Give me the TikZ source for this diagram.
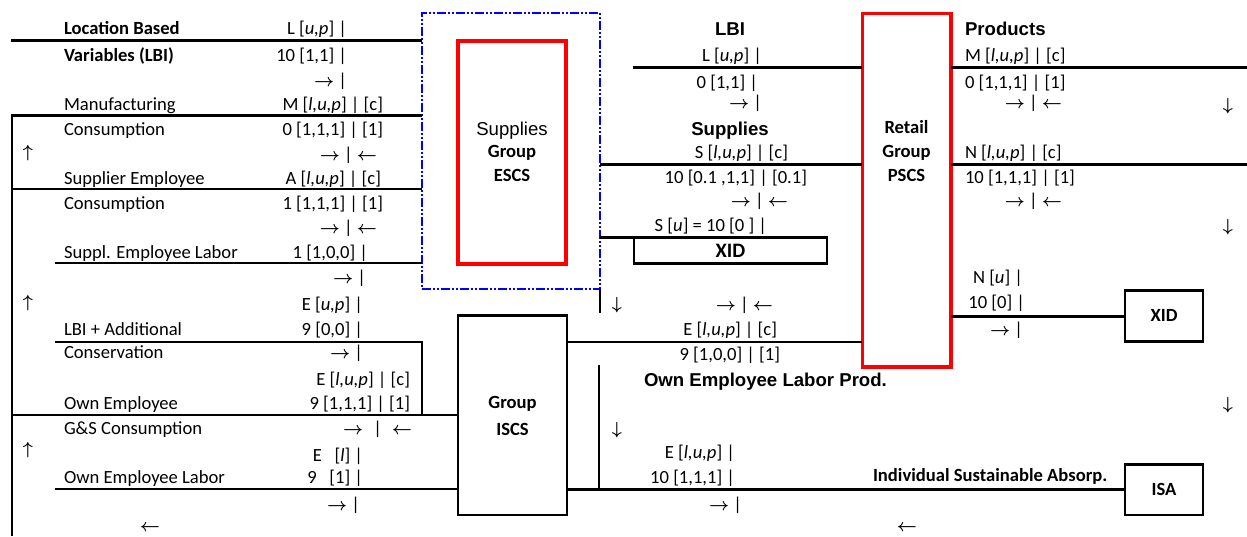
\documentclass[tikz,border=0pt]{standalone}
\usepackage{graphicx}
\usepackage{fontspec}
\setmainfont{Carlito}
\newfontfamily\arialf{Liberation Sans}
\newcommand\myRA{\scalebox{1.75}{\normalsize\boldmath$\rightarrow$}}
\newcommand\myLA{\scalebox{1.75}{\normalsize\boldmath$\leftarrow$}}
\newcommand\myUA{\scalebox{1.75}{\normalsize\boldmath$\uparrow$}}
\newcommand\myDA{\scalebox{1.75}{\normalsize\boldmath$\downarrow$}}
\newcommand\myit[1]{\textit{#1}}
\begin{document}
\begin{tikzpicture}[x=1pt,y=-1pt,
  txt/.style={inner sep=0pt, outer sep=0pt, font=\fontsize{18.6}{22}\selectfont},
  tl/.style={txt, anchor=base west},
  tr/.style={txt, anchor=base east},
  tc/.style={txt, anchor=base},
  bl/.style={tl, font=\bfseries\fontsize{18.6}{22}\selectfont},
  bc/.style={tc, font=\bfseries\fontsize{18.6}{22}\selectfont},
  hd/.style={txt, font=\arialf\bfseries\fontsize{18.6}{22}\selectfont},
  arr/.style={inner sep=0pt, outer sep=0pt, anchor=center},
  ln/.style={line width=2.6pt},
  blk/.style={draw, line width=2.6pt, inner sep=0pt, outer sep=0pt},
  redbox/.style={draw=red, line width=3.6pt, inner sep=0pt, outer sep=0pt},
  bluebox/.style={draw=blue, line width=1.7pt, inner sep=0pt, outer sep=0pt,
    dash pattern=on 9pt off 2pt on 2pt off 2pt on 2pt off 2pt}
]
\useasboundingbox (0,0) rectangle (1247,536);

% boxes
\node[bluebox, minimum width=178.3pt, minimum height=275.7pt] (escsout) at (510.85,151.15) {};
\node[redbox, minimum width=108pt, minimum height=223.3pt] (escs) at (512,152.35) {};
\node[blk, minimum width=109pt, minimum height=199.3pt] (iscs) at (512.5,415.35) {};
\node[redbox, minimum width=88.4pt, minimum height=353.7pt] (pscs) at (906.5,190.15) {};
\node[blk, minimum width=193pt, minimum height=25.6pt] (xida) at (730.5,250.5) {};
\node[blk, minimum width=78pt, minimum height=51pt] (xidb) at (1164,316.2) {};
\node[blk, minimum width=78pt, minimum height=50.7pt] (isa) at (1164,489.65) {};

% box texts
\node[txt, anchor=base, font=\arialf\fontsize{18.6}{22}\selectfont] (e1) at (512,135) {Supplies};
\node[bc] (e2) at (512,157) {Group};
\node[bc] (e3) at (512,181.7) {ESCS};
\node[bc] (i1) at (512.5,408) {Group};
\node[bc] (i2) at (512.5,435) {ISCS};
\node[bc] (p1) at (906.5,133) {Retail};
\node[bc] (p2) at (906.5,157) {Group};
\node[bc] (p3) at (906.5,181.7) {PSCS};
\node[bc, font=\bfseries\fontsize{20.5}{24}\selectfont] (x1) at (730.5,257.3) {XID};
\node[bc] (x2) at (1164,321.7) {XID};
\node[bc] (s1) at (1164,495.7) {ISA};

% connectors left
\coordinate (a1) at (11,40.7);
\draw[ln] (a1) -- (a1 -| escsout.west);
\coordinate (a2) at (12,536);
\coordinate (a2t) at (12,115.7);
\draw[ln] (a2) -- (a2t) -- (a2t -| escsout.west);
\coordinate (a3) at (12,189);
\draw[ln] (a3) -- (a3 -| escsout.west);
\coordinate (a4) at (55,263);
\draw[ln] (a4) -- (a4 -| escsout.west);
\coordinate (a5) at (55,342);
\coordinate (a5d) at (422,415);
\draw[ln] (a5) -| (a5d);
\coordinate (a6) at (12,415);
\draw[ln] (a6) -- (a6 -| iscs.west);
\coordinate (a7) at (55,489);
\draw[ln] (a7) -- (a7 -| iscs.west);

% connectors middle
\coordinate (m1) at (633,67.7);
\draw[ln] (m1) -- (m1 -| pscs.west);
\coordinate (m2) at (600,164.3);
\draw[ln] (m2 -| escsout.east) -- (m2 -| pscs.west);
\draw[ln] (xida.north west -| escsout.east) -- (xida.north west);
\coordinate (m4) at (600,313);
\draw[ln] (escsout.south east) -- (m4);
\coordinate (m5) at (567,342);
\draw[ln] (m5 -| iscs.east) -- (m5 -| pscs.west);
\coordinate (m6a) at (599,365);
\coordinate (m6b) at (599,489.65);
\draw[ln] (m6a) -- (m6b);
\draw[ln] (isa.west -| iscs.east) -- (isa.west);

% connectors right
\coordinate (r1) at (1247,67.7);
\draw[ln] (r1 -| pscs.east) -- (r1);
\coordinate (r2) at (1247,164.3);
\draw[ln] (r2 -| pscs.east) -- (r2);
\draw[ln] (xidb.west -| pscs.east) -- (xidb.west);

% left labels
\node[bl] (L0) at (64,34.3) {Location Based};
\node[bl] (L1) at (64,61.7) {Variables (LBI)};
\node[tl] (L3) at (64,110) {Manufacturing};
\node[tl] (L4) at (64,135) {Consumption};
\node[tl] (L6) at (64,184) {Supplier Employee};
\node[tl] (L7) at (64,209.5) {Consumption};
\node[tl] (L9) at (64,258) {Suppl. Employee Labor};
\node[tl] (L12) at (64,335) {LBI + Additional};
\node[tl] (L13) at (64,358.5) {Conservation};
\node[tl] (L15) at (64,409) {Own Employee};
\node[tl] (L16) at (64,434) {G\&S Consumption};
\node[tl] (L18) at (64,483) {Own Employee Labor};

% left values
\node[tr] (V0) at (347,34.3) {L [\myit{u,p}] |};
\node[tr] (V1) at (347,61.7) {10 [1,1] |};
\node[tr] (V2) at (347,86) {\myRA\ |};
\node[tr] (V3) at (383,110) {M [\myit{l,u,p}] | [c]};
\node[tr] (V4) at (383,135) {0 [1,1,1] | [1]};
\node[tr] (V5) at (377,160) {\myRA\ | \myLA};
\node[tr] (V6) at (381,184) {A [\myit{l,u,p}] | [c]};
\node[tr] (V7) at (383,209.5) {1 [1,1,1] | [1]};
\node[tr] (V8) at (377,233) {\myRA\ | \myLA};
\node[tr] (V9) at (368,258) {1 [1,0,0] |};
\node[tr] (V10) at (366,283) {\myRA\ |};
\node[tr] (V11) at (363,310) {E [\myit{u,p}] |};
\node[tr] (V12) at (363,335) {9 [0,0] |};
\node[tr] (V13) at (363,358.5) {\myRA\ |};
\node[tr] (V14) at (410,385) {E [\myit{l,u,p}] | [c]};
\node[tr] (V15) at (410,409) {9 [1,1,1] | [1]};
\node[tr] (V16) at (412,434) {\myRA\hspace{10pt}|\hspace{10pt}\myLA};
\node[tr] (V17) at (363,461) {E\ \ \ [\myit{l}] |};
\node[tr] (V18) at (363,483) {9\ \ \ [1] |};
\node[tr] (V19) at (360,510) {\myRA\ |};
\node[arr] (A20) at (150,528) {\myLA};
\node[arr] (U1) at (28,153) {\myUA};
\node[arr] (U2) at (28,303) {\myUA};
\node[arr] (U3) at (28,450) {\myUA};

% middle
\node[hd, anchor=base] (H1) at (730,35) {LBI};
\node[tr] (M1) at (762,61.7) {L [\myit{u,p}] |};
\node[tr] (M2) at (758,88) {0 [1,1] |};
\node[tr] (M3) at (762,108.3) {\myRA\ |};
\node[hd, anchor=base] (H2) at (730,135) {Supplies};
\node[tr] (M4) at (788,158) {S [\myit{l,u,p}] | [c]};
\node[tr] (M5) at (807,183) {10 [0.1 ,1,1] | [0.1]};
\node[tr] (M6) at (788,206.7) {\myRA\ | \myLA};
\node[tr] (M7) at (767,231.7) {S [\myit{u}] = 10 [0 ] |};
\node[arr] (D1) at (617,305) {\myDA};
\node[tr] (M8) at (773,310) {\myRA\ | \myLA};
\node[tr] (M9) at (777,335) {E [\myit{l,u,p}] | [c]};
\node[tr] (M10) at (780,360) {9 [1,0,0] | [1]};
\node[hd, anchor=base west] (H3) at (644,386.7) {Own Employee Labor Prod.};
\node[arr] (D2) at (617,430) {\myDA};
\node[tr] (M11) at (735,458) {E [\myit{l,u,p}] |};
\node[tr] (M12) at (735,483) {10 [1,1,1] |};
\node[tr] (M13) at (742,510) {\myRA\ |};

% right
\node[hd, anchor=base west] (H4) at (965,35) {Products};
\node[tl] (R1) at (965,61.7) {M [\myit{l,u,p}] | [c]};
\node[tl] (R2) at (965,88) {0 [1,1,1] | [1]};
\node[tr] (R3) at (1062,108.3) {\myRA\ | \myLA};
\node[arr] (D3) at (1228,106) {\myDA};
\node[tl] (R4) at (965,158) {N [\myit{l,u,p}] | [c]};
\node[tl] (R5) at (965,183) {10 [1,1,1] | [1]};
\node[tr] (R6) at (1062,206.7) {\myRA\ | \myLA};
\node[arr] (D4) at (1228,227) {\myDA};
\node[tr] (R7) at (1023,283) {N [\myit{u}] |};
\node[tr] (R8) at (1025,308) {10 [0] |};
\node[tr] (R9) at (1023,335) {\myRA\ |};
\node[arr] (D5) at (1228,405) {\myDA};
\node[bl] (R10) at (873,481.7) {Individual Sustainable Absorp.};
\node[arr] (A21) at (907,528) {\myLA};
\end{tikzpicture}
\end{document}
